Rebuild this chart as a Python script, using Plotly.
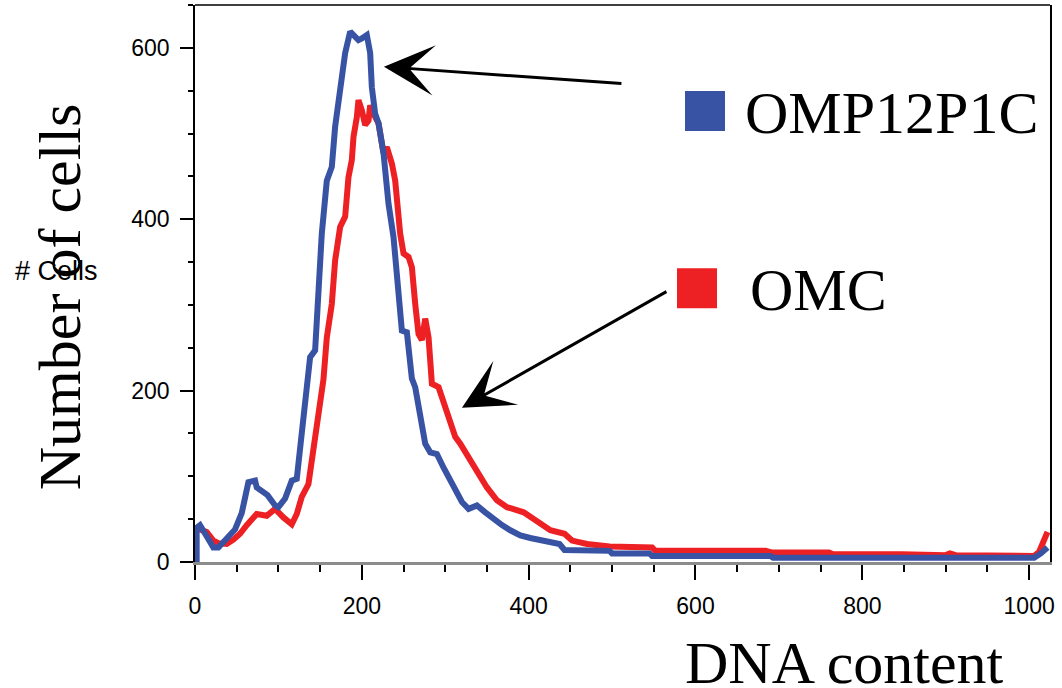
import plotly.graph_objects as go

# ---- data ----
blue_name = "OMP12P1C"
blue_x = [0, 2, 2, 6, 14, 22, 28, 38, 48, 56, 64, 68, 72, 74, 87, 96, 100, 108, 116, 122,
          128, 134, 138, 144, 152, 158, 164, 168, 174, 180, 186, 192, 196, 200, 206, 210,
          212, 216, 220, 226, 232, 238, 244, 248, 254, 260, 264, 270, 276, 282, 290, 298,
          306, 314, 320, 328, 338, 348, 358, 368, 378, 390, 402, 414, 426, 437, 443, 470,
          497, 500, 545, 548, 600, 650, 690, 693, 750, 800, 850, 900, 950, 1006, 1014, 1022]
blue_y = [0, 0, 40, 43, 30, 17, 17, 27, 38, 57, 93, 94, 95, 87, 78, 66, 64, 74, 95, 97,
          150, 208, 239, 247, 383, 445, 461, 508, 547, 594, 619, 613, 609, 611, 615, 594,
          554, 523, 512, 477, 418, 379, 321, 270, 268, 214, 204, 169, 138, 128, 126, 110,
          95, 80, 70, 62, 66, 58, 50, 43, 37, 31, 28, 25, 22, 21, 14, 13,
          13, 10, 10, 7, 7, 7, 7, 5, 5, 5, 5, 5, 5, 5, 10, 17]

red_name = "OMC"
red_x = [0, 1, 1, 6, 14, 22, 28, 38, 46, 54, 62, 74, 86, 96, 106, 116, 122, 128, 136, 142,
         148, 152, 154, 158, 164, 168, 174, 180, 184, 188, 190, 194, 196, 200, 204, 208,
         210, 214, 220, 226, 230, 236, 240, 246, 250, 256, 260, 264, 268, 272, 276, 280,
         284, 292, 302, 312, 318, 328, 336, 350, 362, 374, 394, 410, 426, 443, 452, 470,
         497, 548, 552, 684, 692, 760, 765, 847, 900, 905, 912, 1006, 1012, 1022]
red_y = [0, 0, 38, 38, 35, 25, 22, 21, 26, 33, 43, 56, 54, 62, 52, 44, 56, 76, 91, 130,
         165, 195, 213, 262, 301, 352, 391, 403, 449, 469, 496, 519, 539, 527, 510, 515,
         533, 523, 512, 477, 484, 465, 445, 383, 360, 356, 344, 301, 266, 259, 284, 262,
         208, 204, 173, 146, 138, 122, 107, 87, 72, 64, 58, 48, 37, 33, 25, 21,
         18, 17, 13, 13, 11, 11, 9, 9, 8, 10, 8, 7, 12, 35]

x_ticks = [0, 200, 400, 600, 800, 1000]
y_ticks = [0, 200, 400, 600]

BLUE = "#3953a4"
RED = "#ed2024"
SERIF = "Liberation Serif, Times New Roman, serif"
SANS = "Liberation Sans, Arial, sans-serif"

# plot-area geometry in page pixels (for placing annotations)
L, R, T, B = 195, 1050, 5, 561.6
PW, PH = R - L, B - T


def px(x):
    return (x - L) / PW


def py(y):
    return (B - y) / PH


fig = go.Figure()
fig.add_trace(go.Scatter(x=red_x, y=red_y, mode="lines", name=red_name,
                         line=dict(color=RED, width=6), showlegend=False))
fig.add_trace(go.Scatter(x=blue_x, y=blue_y, mode="lines", name=blue_name,
                         line=dict(color=BLUE, width=6), showlegend=False))

fig.update_layout(
    width=1062, height=688,
    margin=dict(l=L, r=1062 - R, t=T, b=688 - B),
    paper_bgcolor="white", plot_bgcolor="white",
    xaxis=dict(range=[0, 1025], tickvals=x_ticks, ticks="outside", ticklen=15,
               tickwidth=1.5, tickcolor="black", showgrid=False, zeroline=False,
               showline=True, linecolor="#8c8c8c", linewidth=3,
               tickfont=dict(family=SANS, size=23, color="black"),
               ticklabelstandoff=6,
               minor=dict(dtick=50, tick0=0, ticks="outside", ticklen=7,
                          tickwidth=1.5, tickcolor="black", showgrid=False)),
    yaxis=dict(range=[0, 650], tickvals=y_ticks, ticks="outside", ticklen=13,
               tickwidth=1.5, tickcolor="black", showgrid=False, zeroline=False,
               showline=True, linecolor="black", linewidth=1.5, mirror=True,
               tickfont=dict(family=SANS, size=23, color="black"),
               ticklabelstandoff=6,
               minor=dict(dtick=50, tick0=0, ticks="outside", ticklen=5,
                          tickwidth=1.5, tickcolor="black", showgrid=False)),
    showlegend=False,
)

# top frame line
fig.add_shape(type="line", xref="paper", yref="paper", x0=0, x1=1, y0=1, y1=1,
              line=dict(color="black", width=1.5))

# legend squares
fig.add_shape(type="rect", xref="paper", yref="paper",
              x0=px(685), x1=px(725), y0=py(131), y1=py(91),
              fillcolor=BLUE, line=dict(width=0))
fig.add_shape(type="rect", xref="paper", yref="paper",
              x0=px(677), x1=px(717), y0=py(308), y1=py(268),
              fillcolor=RED, line=dict(width=0))

# legend labels
fig.add_annotation(text=blue_name, xref="paper", yref="paper",
                   x=px(743), y=py(113), xanchor="left", yanchor="middle",
                   showarrow=False, font=dict(family=SERIF, size=60, color="black"))
fig.add_annotation(text=red_name, xref="paper", yref="paper",
                   x=px(748), y=py(290), xanchor="left", yanchor="middle",
                   showarrow=False, font=dict(family=SERIF, size=60, color="black"))

# arrows
fig.add_annotation(x=226.5, y=578, xref="x", yref="y", ax=239, ay=17, text="",
                   showarrow=True, arrowhead=3, arrowsize=2.8, arrowwidth=3,
                   arrowcolor="black")
fig.add_annotation(x=320, y=180, xref="x", yref="y", ax=206, ay=-117, text="",
                   showarrow=True, arrowhead=3, arrowsize=2.8, arrowwidth=3,
                   arrowcolor="black")

# axis titles
fig.add_annotation(text="Number of cells", xref="paper", yref="paper",
                   x=px(60), y=py(297), textangle=-90,
                   xanchor="center", yanchor="middle", showarrow=False,
                   font=dict(family=SERIF, size=60, color="black"))
fig.add_annotation(text="# Cells", xref="paper", yref="paper",
                   x=px(56), y=py(271), xanchor="center", yanchor="middle",
                   showarrow=False, font=dict(family=SANS, size=27, color="black"))
fig.add_annotation(text="DNA content", xref="paper", yref="paper",
                   x=px(844), y=py(663), xanchor="center", yanchor="middle",
                   showarrow=False, font=dict(family=SERIF, size=60, color="black"))

fig.write_html("out.html", config={"displayModeBar": False},
               post_script="document.body.style.margin='0';document.body.style.overflow='hidden';")
